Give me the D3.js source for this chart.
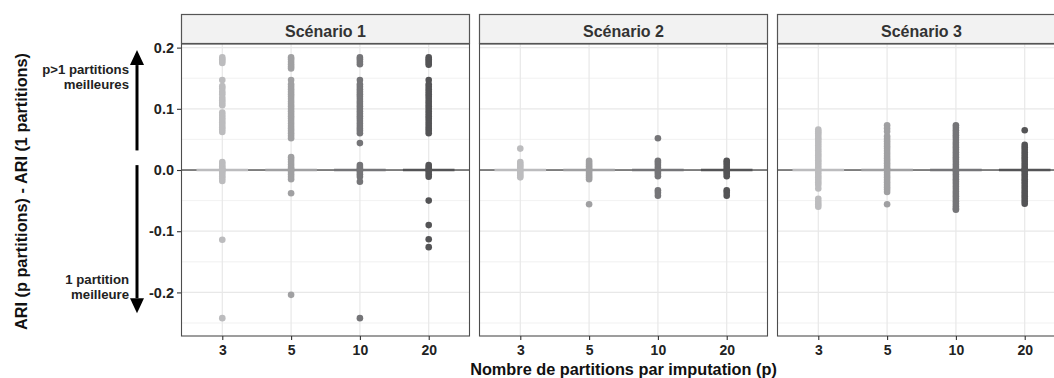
<!DOCTYPE html>
<html>
<head>
<meta charset="utf-8">
<script src="https://cdn.jsdelivr.net/npm/d3@7"></script>
<style>
  html, body { margin: 0; padding: 0; background: #fff; }
  svg { display: block; }
  text { font-family: "Liberation Sans", Arial, sans-serif; font-weight: bold; }
</style>
</head>
<body>
<svg id="chart" width="1054" height="378"></svg>
<script>
// Categories and facets
const partitions = ["3", "5", "10", "20"];
const scenarios = ["Scénario 1", "Scénario 2", "Scénario 3"];
const yTicks = [-0.2, -0.1, 0.0, 0.1, 0.2];
const yMinorTicks = [-0.25, -0.15, -0.05, 0.05, 0.15];
const pointColors = ["#bcbcbe", "#a0a0a2", "#757578", "#545456"];

// ARI differences, one list per scenario and number of partitions
const s1p3 = [0.184, 0.181, 0.178, 0.175, 0.147, 0.137, 0.133, 0.128, 0.124, 0.118, 0.114, 0.110, 0.106,
  0.094, 0.090, 0.086, 0.082, 0.078, 0.074, 0.070, 0.066, 0.062, 0.013, 0.010, 0.006, 0.003, 0, 0,
  -0.003, -0.006, -0.010, -0.014, -0.018, -0.114, -0.242];
const s1p5 = [0.184, 0.181, 0.177, 0.173, 0.169, 0.166, 0.147, 0.140, 0.136, 0.132, 0.128, 0.124, 0.120,
  0.116, 0.112, 0.108, 0.104, 0.100, 0.096, 0.092, 0.088, 0.084, 0.080, 0.076, 0.072, 0.068, 0.064,
  0.060, 0.056, 0.052, 0.021, 0.017, 0.013, 0.009, 0.005, 0.002, 0, -0.003, -0.007, -0.011, -0.015,
  -0.038, -0.204];
const s1p10 = [0.184, 0.181, 0.177, 0.173, 0.147, 0.140, 0.136, 0.132, 0.128, 0.124, 0.120, 0.116, 0.112,
  0.108, 0.104, 0.100, 0.096, 0.092, 0.088, 0.084, 0.080, 0.076, 0.072, 0.068, 0.064, 0.060, 0.044,
  0.008, 0.005, 0.002, 0, -0.003, -0.007, -0.011, -0.019, -0.242];
const s1p20 = [0.184, 0.181, 0.178, 0.175, 0.172, 0.147, 0.140, 0.136, 0.132, 0.128, 0.124, 0.120, 0.116,
  0.112, 0.108, 0.104, 0.100, 0.096, 0.092, 0.088, 0.084, 0.080, 0.076, 0.072, 0.068, 0.064, 0.060,
  0.008, 0.005, 0.002, 0, -0.003, -0.007, -0.011, -0.050, -0.090, -0.113, -0.126];

const s2p3 = [0.035, 0.013, 0.010, 0.007, 0.004, 0, -0.003, -0.006, -0.009, -0.012];
const s2p5 = [0.015, 0.012, 0.009, 0.006, 0.003, 0, -0.003, -0.006, -0.009, -0.012, -0.015, -0.056];
const s2p10 = [0.052, 0.015, 0.012, 0.008, 0.004, 0, -0.003, -0.006, -0.010, -0.033, -0.037, -0.042];
const s2p20 = [0.015, 0.012, 0.008, 0.004, 0, -0.003, -0.006, -0.010, -0.033, -0.037, -0.042];

const s3p3 = [0.066, 0.063, 0.060, 0.056, 0.052, 0.048, 0.044, 0.040, 0.036, 0.032, 0.028, 0.024, 0.020,
  0.016, 0.012, 0.008, 0.004, 0, -0.004, -0.008, -0.012, -0.016, -0.020, -0.024, -0.030,
  -0.047, -0.052, -0.056, -0.060];
const s3p5 = [0.073, 0.068, 0.063, 0.055, 0.051, 0.047, 0.043, 0.039, 0.035, 0.031, 0.027, 0.023, 0.019,
  0.015, 0.011, 0.007, 0.003, 0, -0.004, -0.008, -0.012, -0.016, -0.020, -0.024, -0.028, -0.032,
  -0.036, -0.056];
const s3p10 = [0.073, 0.069, 0.065, 0.061, 0.057, 0.053, 0.049, 0.045, 0.041, 0.037, 0.033, 0.029, 0.025,
  0.021, 0.017, 0.013, 0.009, 0.005, 0.001, 0, -0.003, -0.007, -0.011, -0.015, -0.019, -0.023, -0.027,
  -0.031, -0.035, -0.039, -0.043, -0.047, -0.051, -0.055, -0.059, -0.063, -0.065];
const s3p20 = [0.065, 0.041, 0.037, 0.033, 0.029, 0.025, 0.021, 0.017, 0.013, 0.009, 0.005, 0.001, 0,
  -0.003, -0.007, -0.011, -0.015, -0.019, -0.023, -0.027, -0.031, -0.035, -0.039, -0.043, -0.047,
  -0.051, -0.055];

const seriesByScenario = [
  [s1p3, s1p5, s1p10, s1p20],
  [s2p3, s2p5, s2p10, s2p20],
  [s3p3, s3p5, s3p10, s3p20]
];

// Medians (boxes collapse onto zero for every group)
const medians = [
  [0, 0, 0, 0],
  [0, 0, 0, 0],
  [0, 0, 0, 0]
];

// Direction annotations on the left margin, in data units
const arrowUp = { from: 0.032, to: 0.196 };
const arrowDown = { from: 0.008, to: -0.234 };
const labelUp = ["p>1 partitions", "meilleures"];
const labelDown = ["1 partition", "meilleure"];

const yTitle = "ARI (p partitions) - ARI (1 partitions)";
const xTitle = "Nombre de partitions par imputation (p)";

// ---- layout ----
const svg = d3.select("#chart");
const panelLeft = 181, panelW = 289, panelStep = 298;
const panelsRight = panelLeft + 2 * panelStep + panelW;
const stripTop = 14, stripH = 30;
const plotTop = stripTop + stripH, plotBottom = 336;

const y = d3.scaleLinear().domain([-0.2712, 0.2059]).range([plotBottom, plotTop]);

// plain hyphen for negative tick labels
const fmt = d3.formatLocale({ decimal: ".", thousands: ",", grouping: [3], currency: ["", ""], minus: "-" })
  .format(".1f");
const FONT = "\"Liberation Sans\", Arial, sans-serif";

scenarios.forEach((name, si) => {
  const x0 = panelLeft + si * panelStep;
  const x = d3.scalePoint().domain(partitions).range([x0, x0 + panelW]).padding(0.6);
  const g = svg.append("g");

  // panel background
  g.append("rect").attr("x", x0).attr("y", plotTop).attr("width", panelW)
    .attr("height", plotBottom - plotTop).attr("fill", "#fff");

  // minor grid
  g.selectAll(".minor").data(yMinorTicks).join("line")
    .attr("x1", x0).attr("x2", x0 + panelW)
    .attr("y1", d => y(d)).attr("y2", d => y(d))
    .attr("stroke", "#ededed").attr("stroke-width", 0.8);
  // major grid
  g.selectAll(".major").data(yTicks).join("line")
    .attr("x1", x0).attr("x2", x0 + panelW)
    .attr("y1", d => y(d)).attr("y2", d => y(d))
    .attr("stroke", "#e8e8e8").attr("stroke-width", 1.2);
  g.selectAll(".vgrid").data(partitions).join("line")
    .attr("x1", d => x(d)).attr("x2", d => x(d))
    .attr("y1", plotTop).attr("y2", plotBottom)
    .attr("stroke", "#e8e8e8").attr("stroke-width", 1.2);

  // reference line at zero
  g.append("line").attr("x1", x0).attr("x2", x0 + panelW)
    .attr("y1", y(0)).attr("y2", y(0))
    .attr("stroke", "#111").attr("stroke-width", 1);

  // collapsed boxplots (median bars)
  const half = x.step() * 0.375;
  g.selectAll(".med").data(partitions).join("line")
    .attr("x1", d => x(d) - half).attr("x2", d => x(d) + half)
    .attr("y1", (d, i) => y(medians[si][i])).attr("y2", (d, i) => y(medians[si][i]))
    .attr("stroke", (d, i) => pointColors[i]).attr("stroke-width", 2.4);

  // points
  partitions.forEach((p, pi) => {
    g.append("g").selectAll("circle").data(seriesByScenario[si][pi]).join("circle")
      .attr("cx", x(p)).attr("cy", d => y(d)).attr("r", 3.3)
      .attr("fill", pointColors[pi]);
  });

  // panel border
  g.append("rect").attr("x", x0 + 0.5).attr("y", plotTop).attr("width", panelW - 1)
    .attr("height", plotBottom - plotTop).attr("fill", "none")
    .attr("stroke", "#4d4d4d").attr("stroke-width", 1.1);

  // strip
  g.append("rect").attr("x", x0 + 0.5).attr("y", stripTop + 0.5).attr("width", panelW - 1)
    .attr("height", stripH - 1).attr("fill", "#f2f2f2")
    .attr("stroke", "#555").attr("stroke-width", 1.2);
  g.append("text").attr("x", x0 + panelW / 2).attr("y", stripTop + 22.5)
    .attr("text-anchor", "middle").attr("font-size", 16).attr("fill", "#333").text(name);

  // x axis
  const xa = g.append("g").attr("transform", `translate(0,${plotBottom})`)
    .call(d3.axisBottom(x).tickSize(4).tickPadding(5));
  xa.select(".domain").remove();
  xa.selectAll(".tick line").attr("stroke", "#333").attr("stroke-width", 1.1);
  xa.selectAll(".tick text").attr("font-size", 14).attr("fill", "#222")
    .attr("font-family", FONT).attr("font-weight", "bold");
});

// y axis
const ya = svg.append("g").attr("transform", `translate(${panelLeft},0)`)
  .call(d3.axisLeft(y).tickValues(yTicks).tickFormat(fmt).tickSize(4).tickPadding(3));
ya.select(".domain").remove();
ya.selectAll(".tick line").attr("stroke", "#333").attr("stroke-width", 1.1);
ya.selectAll(".tick text").attr("font-size", 14.5).attr("fill", "#222")
  .attr("font-family", FONT).attr("font-weight", "bold");

// axis titles
svg.append("text").attr("x", (panelLeft + panelsRight) / 2).attr("y", 375)
  .attr("text-anchor", "middle").attr("font-size", 16.3).attr("fill", "#111").text(xTitle);
svg.append("text").attr("transform", `translate(27,${191.5}) rotate(-90)`)
  .attr("text-anchor", "middle").attr("font-size", 16.3).attr("fill", "#111").text(yTitle);

// direction arrows
const ax = 137;
function arrow(from, to) {
  const dir = Math.sign(y(to) - y(from));
  const tip = y(to), base = tip - dir * 15;
  svg.append("line").attr("x1", ax).attr("x2", ax).attr("y1", y(from)).attr("y2", base)
    .attr("stroke", "#000").attr("stroke-width", 3);
  svg.append("path")
    .attr("d", d3.line()([[ax - 7, base], [ax + 7, base], [ax, tip]]) + "Z")
    .attr("fill", "#000");
}
arrow(arrowUp.from, arrowUp.to);
arrow(arrowDown.from, arrowDown.to);

function label(lines, yb) {
  lines.forEach((s, i) => svg.append("text").attr("text-anchor", "end").attr("font-size", 13.2)
    .attr("fill", "#222").attr("x", 129).attr("y", yb + i * 14.8).text(s));
}
label(labelUp, 74);
label(labelDown, 284);
</script>
</body>
</html>
